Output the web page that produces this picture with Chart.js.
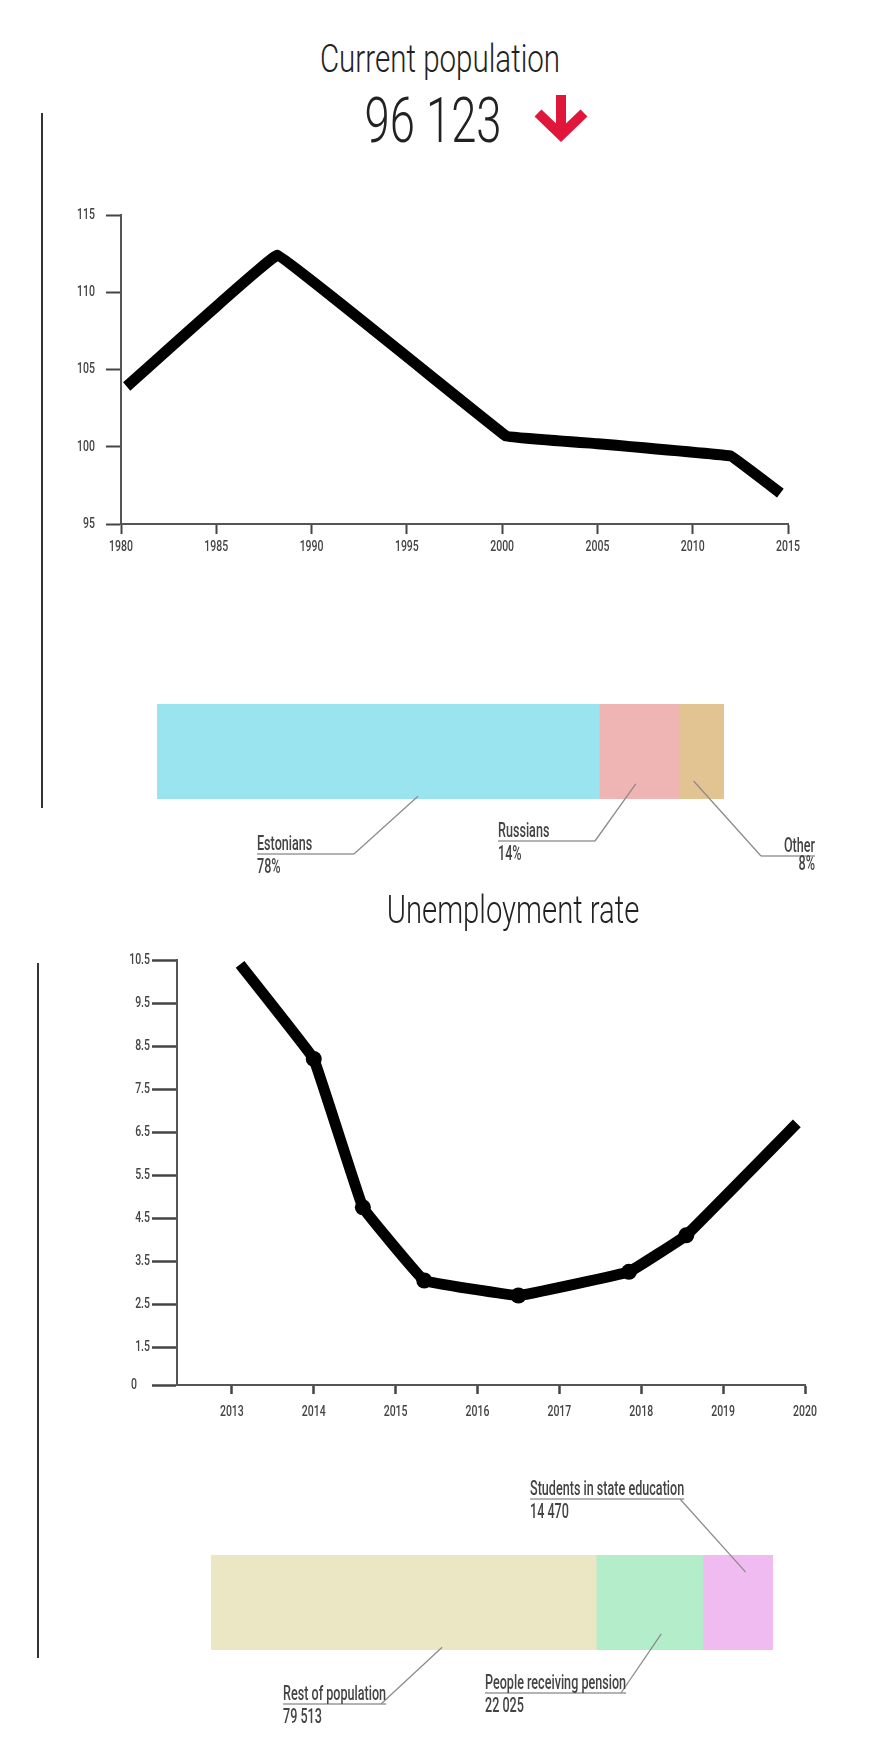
<!DOCTYPE html>
<html>
<head>
<meta charset="utf-8">
<script src="https://cdn.jsdelivr.net/npm/chart.js@4.4.0/dist/chart.umd.min.js"></script>
<style>
  body { margin: 0; background: #fff; width: 875px; height: 1749px; position: relative; overflow: hidden; font-family: Roboto, sans-serif; }
  .box { position: absolute; }
  .title { position: absolute; font-weight: 300; color: #222; white-space: nowrap; line-height: 1; transform-origin: center top; }
  .rule { position: absolute; width: 1.5px; background: #333; }
</style>
</head>
<body>
<div class="title" id="popTitle" data-cx="440" data-w="240" style="top:40px;font-size:39px">Current population</div>
<div class="title" id="popNumber" data-cx="433" data-w="137" style="top:89px;font-size:63px"></div>
<svg class="box" style="left:533px;top:95px" width="56" height="52">
  <line x1="28" y1="0" x2="28" y2="38" stroke="#e0173b" stroke-width="10"/>
  <polyline points="5,18 28,40 51,18" fill="none" stroke="#e0173b" stroke-width="10" stroke-linejoin="miter"/>
</svg>
<div class="rule" style="left:41px;top:113px;height:695px"></div>
<div class="box" style="left:60px;top:190px;width:760px;height:380px"><canvas id="popChart"></canvas></div>
<div class="box" style="left:0;top:640px;width:875px;height:260px"><canvas id="ethnicChart"></canvas></div>

<div class="title" id="jobTitle" data-cx="513" data-w="253" style="top:891px;font-size:39px">Unemployment rate</div>
<div class="rule" style="left:37px;top:963px;height:695px"></div>
<div class="box" style="left:60px;top:930px;width:780px;height:520px"><canvas id="jobChart"></canvas></div>
<div class="box" style="left:0;top:1460px;width:875px;height:289px"><canvas id="groupChart"></canvas></div>

<script>
// population, thousands
const currentPopulation = 96123;
const popYears = [1980.3, 1988.2, 2000.2, 2005, 2012, 2014.6];
const popValues = [103.9, 112.4, 100.7, 100.2, 99.4, 97.0];
const popYearTicks = [1980, 1985, 1990, 1995, 2000, 2005, 2010, 2015];
const popValueTicks = [95, 100, 105, 110, 115];

// ethnic composition, %
const ethnicLabels = ['Estonians', 'Russians', 'Other'];
const ethnicShares = [78, 14, 8];

// unemployment rate, %
const jobYears = [2013.1, 2014.0, 2014.6, 2015.35, 2016.5, 2017.85, 2018.55, 2019.9];
const jobRates = [10.4, 8.2, 4.75, 3.05, 2.7, 3.25, 4.1, 6.7];
const jobYearTicks = [2013, 2014, 2015, 2016, 2017, 2018, 2019, 2020];
const jobRateTicks = [0, 1.5, 2.5, 3.5, 4.5, 5.5, 6.5, 7.5, 8.5, 9.5, 10.5];

// population groups, people
const groupLabels = ['Rest of population', 'People receiving pension', 'Students in state education'];
const groupCounts = [79513, 22025, 14470];

const ethnicColors = ['#9ae4f0', '#efb4b4', '#e2c492'];
const groupColors = ['#ebe7c5', '#b4edca', '#f0bbf0'];

const LABEL_SX = 0.6;
const TICK_SX = 0.7;
const JOB_AXIS_MIN = 0.62;

function spaced(n) {
  return String(n).replace(/\B(?=(\d{3})+(?!\d))/g, ' ');
}

document.getElementById('popNumber').textContent = spaced(currentPopulation);
document.querySelectorAll('.title').forEach(el => {
  const sx = Number(el.dataset.w) / el.offsetWidth;
  el.style.left = el.dataset.cx + 'px';
  el.style.transform = `translateX(-50%) scaleX(${sx})`;
});

// condensed text: no narrow face installed, so squeeze Roboto horizontally
function squeezed(ctx, text, x, y, align, sx) {
  ctx.save();
  ctx.translate(x, y);
  ctx.scale(sx, 1);
  ctx.textAlign = align;
  ctx.fillText(text, 0, 0);
  ctx.restore();
}

// tick labels drawn at the scale's own tick positions
const tickLabelPlugin = {
  id: 'tickLabels',
  afterDraw(chart, args, opts) {
    const ctx = chart.ctx;
    const xs = chart.scales.x;
    const ys = chart.scales.y;
    ctx.save();
    ctx.font = '500 15px Roboto, sans-serif';
    ctx.fillStyle = '#444';
    ctx.textBaseline = 'middle';
    xs.ticks.forEach((t, i) => {
      squeezed(ctx, opts.xLabels[i], xs.getPixelForValue(t.value), xs.top + opts.xOffset, 'center', TICK_SX);
    });
    ys.ticks.forEach((t, i) => {
      const gap = (opts.minGap && t.value === ys.min) ? opts.minGap : opts.yGap;
      squeezed(ctx, opts.yLabels[i], ys.right - gap, ys.getPixelForValue(t.value), 'right', TICK_SX);
    });
    ctx.restore();
  }
};

function axisOpts(tickLength, tickWidth) {
  return {
    grid: { drawOnChartArea: false, drawTicks: true, tickLength, tickColor: '#444', tickWidth },
    border: { display: true, color: '#555', width: 2 },
    ticks: { display: false }
  };
}

function fixedTicks(list, floor) {
  return scale => {
    scale.ticks = list.map(v => ({ value: floor === undefined ? v : Math.max(v, floor) }));
  };
}

// population line
new Chart(document.getElementById('popChart'), {
  type: 'line',
  data: {
    datasets: [{
      data: popYears.map((yr, i) => ({ x: yr, y: popValues[i] })),
      borderColor: '#000',
      borderWidth: 11,
      borderJoinStyle: 'round',
      tension: 0.03,
      pointRadius: 0,
      fill: false
    }]
  },
  options: {
    responsive: true,
    maintainAspectRatio: false,
    animation: false,
    layout: { padding: { left: 0, top: 25, right: 32, bottom: 6 } },
    plugins: {
      legend: { display: false },
      tooltip: { enabled: false },
      tickLabels: {
        xLabels: popYearTicks.map(String), yLabels: popValueTicks.map(String),
        xOffset: 23, yGap: 26
      }
    },
    scales: {
      x: Object.assign(axisOpts(10, 2), {
        type: 'linear', min: 1980, max: 2015,
        afterBuildTicks: fixedTicks(popYearTicks),
        afterFit: s => { s.height = 40; }
      }),
      y: Object.assign(axisOpts(15, 2), {
        min: 95, max: 115,
        afterBuildTicks: fixedTicks(popValueTicks),
        afterFit: s => { s.width = 61; }
      })
    }
  },
  plugins: [tickLabelPlugin]
});

// unemployment line
const lastJob = jobYears.length - 1;
new Chart(document.getElementById('jobChart'), {
  type: 'line',
  data: {
    datasets: [{
      data: jobYears.map((yr, i) => ({ x: yr, y: jobRates[i] })),
      borderColor: '#000',
      borderWidth: 11,
      borderJoinStyle: 'round',
      tension: 0.05,
      pointRadius: c => (c.dataIndex === 0 || c.dataIndex === lastJob) ? 0 : 8,
      pointBackgroundColor: '#000',
      pointBorderWidth: 0,
      fill: false
    }]
  },
  options: {
    responsive: true,
    maintainAspectRatio: false,
    animation: false,
    layout: { padding: { left: 0, top: 30, right: 35, bottom: 15 } },
    plugins: {
      legend: { display: false },
      tooltip: { enabled: false },
      tickLabels: {
        xLabels: jobYearTicks.map(String), yLabels: jobRateTicks.map(String),
        xOffset: 27, yGap: 27, minGap: 40
      }
    },
    scales: {
      x: Object.assign(axisOpts(9, 2.5), {
        type: 'linear', min: 2012.33, max: 2020,
        afterBuildTicks: fixedTicks(jobYearTicks),
        afterFit: s => { s.height = 50; }
      }),
      y: Object.assign(axisOpts(25, 2.5), {
        min: JOB_AXIS_MIN, max: 10.5,
        afterBuildTicks: fixedTicks(jobRateTicks, JOB_AXIS_MIN),
        afterFit: s => { s.width = 117; }
      })
    }
  },
  plugins: [tickLabelPlugin]
});

// callouts under / over the stacked bars
const calloutPlugin = {
  id: 'callouts',
  afterDatasetsDraw(chart, args, opts) {
    const ctx = chart.ctx;
    opts.items.forEach((item, i) => {
      const el = chart.getDatasetMeta(i).data[0];
      if (!el) return;
      const ax = el.base + item.fx * (el.x - el.base);
      const ay = el.y - el.height / 2 + item.fy * el.height;
      const ds = chart.data.datasets[i];
      const right = item.align === 'right';
      ctx.save();
      ctx.font = '500 21px Roboto, sans-serif';
      const w = ctx.measureText(ds.label).width * LABEL_SX;
      const uy = item.y + 4;
      // underline
      ctx.strokeStyle = '#b3b3b3';
      ctx.lineWidth = 2;
      ctx.beginPath();
      if (right) { ctx.moveTo(item.ex, uy); ctx.lineTo(item.x, uy); }
      else { ctx.moveTo(item.x, uy); ctx.lineTo(Math.max(item.ex, item.x + w), uy); }
      ctx.stroke();
      // leader
      ctx.strokeStyle = '#8c8c8c';
      ctx.lineWidth = 1.3;
      ctx.beginPath();
      ctx.moveTo(item.ex, uy);
      ctx.lineTo(ax, ay);
      ctx.stroke();
      // texts
      ctx.fillStyle = '#444';
      ctx.textBaseline = 'alphabetic';
      const align = right ? 'right' : 'left';
      squeezed(ctx, ds.label, item.x, item.y, align, LABEL_SX);
      squeezed(ctx, opts.format(ds.data[0]), item.x, item.y + (item.dy || 23), align, LABEL_SX);
      ctx.restore();
    });
  }
};

function stackedBar(canvasId, labels, values, colors, padding, items, format) {
  const total = values.reduce((a, b) => a + b, 0);
  return new Chart(document.getElementById(canvasId), {
    type: 'bar',
    data: {
      labels: [''],
      datasets: labels.map((label, i) => ({
        label,
        data: [values[i]],
        backgroundColor: colors[i],
        borderWidth: 0,
        barPercentage: 1,
        categoryPercentage: 1
      }))
    },
    options: {
      indexAxis: 'y',
      responsive: true,
      maintainAspectRatio: false,
      animation: false,
      layout: { padding },
      plugins: {
        legend: { display: false },
        tooltip: { enabled: false },
        callouts: { items, format }
      },
      scales: {
        x: { stacked: true, display: false, min: 0, max: total },
        y: { stacked: true, display: false }
      }
    },
    plugins: [calloutPlugin]
  });
}

stackedBar('ethnicChart', ethnicLabels, ethnicShares, ethnicColors,
  { left: 157, right: 151, top: 64, bottom: 101 },
  [
    { x: 257, y: 210, ex: 354, fx: 0.59, fy: 0.97 },
    { x: 498, y: 197, ex: 595, fx: 0.46, fy: 0.84 },
    { x: 815, y: 212, ex: 761, fx: 0.33, fy: 0.81, align: 'right', dy: 18 }
  ],
  v => v + '%');

stackedBar('groupChart', groupLabels, groupCounts, groupColors,
  { left: 211, right: 102, top: 95, bottom: 99 },
  [
    { x: 283, y: 240, ex: 381, fx: 0.60, fy: 0.97 },
    { x: 485, y: 229, ex: 621, fx: 0.61, fy: 0.83 },
    { x: 530, y: 35, ex: 680, fx: 0.61, fy: 0.18 }
  ],
  spaced);
</script>
</body>
</html>
